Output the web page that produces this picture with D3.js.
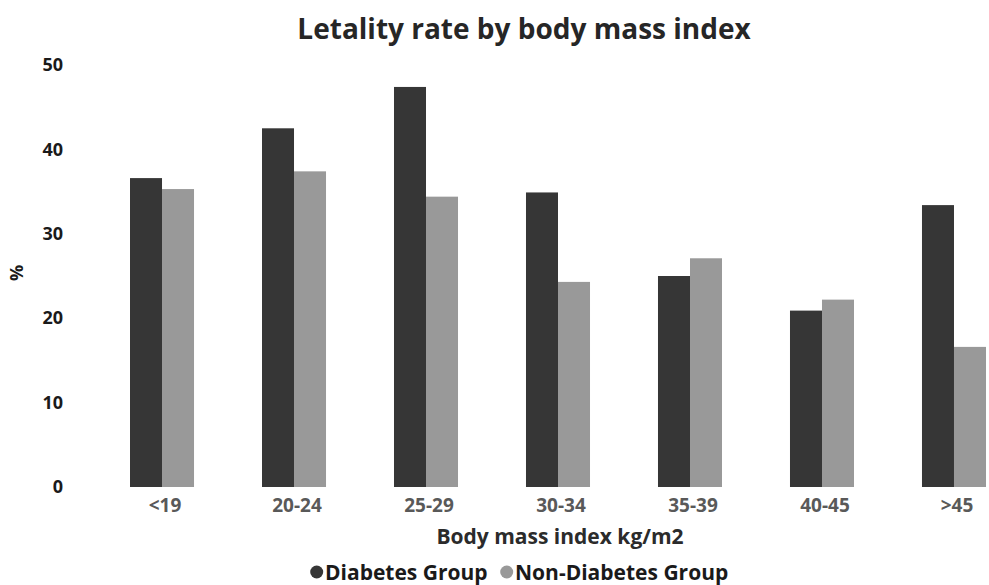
<!DOCTYPE html>
<html><head><meta charset="utf-8">
<script src="https://cdn.jsdelivr.net/npm/d3@7"></script>
<style>body{margin:0;background:#fff}svg{display:block;font-family:"Open Sans",sans-serif}</style>
</head><body>
<svg id="c" width="989" height="585"></svg>
<script>
const categories = ["<19","20-24","25-29","30-34","35-39","40-45",">45"];
const seriesNames = ["Diabetes Group","Non-Diabetes Group"];
const diabetes = [36.6,42.5,47.4,34.9,25.0,20.9,33.4];
const nonDiabetes = [35.3,37.4,34.4,24.3,27.1,22.2,16.6];
const yTicks = [0,10,20,30,40,50];
const colors = ["#363636","#999999"];

const svg = d3.select("#c");
const y = d3.scaleLinear().domain([0,50]).range([487,65]);
const x = d3.scaleBand().domain(categories).range([96,1020]).paddingInner(0.515).paddingOuter(0.2576);
const x1 = d3.scaleBand().domain(seriesNames).range([0,x.bandwidth()]);
const values = [diabetes, nonDiabetes];

const g = svg.append("g");
categories.forEach((c,i)=>{
  seriesNames.forEach((s,j)=>{
    g.append("rect")
      .attr("x", x(c)+x1(s)).attr("width", x1.bandwidth())
      .attr("y", y(values[j][i])).attr("height", y(0)-y(values[j][i]))
      .attr("fill", colors[j]);
  });
});

// y axis
const ya = svg.append("g").attr("transform","translate(63,0)")
  .call(d3.axisLeft(y).tickValues(yTicks).tickSize(0).tickPadding(0));
ya.select(".domain").remove();
ya.selectAll("text").attr("font-size",18).attr("font-weight",700).attr("fill","#1a1a1a").attr("font-family","Open Sans");

// x axis
const xa = svg.append("g").attr("transform","translate(3,498)")
  .call(d3.axisBottom(x).tickSize(0).tickPadding(0));
xa.select(".domain").remove();
xa.selectAll("text").attr("font-size",19).attr("font-weight",700).attr("fill","#595959").attr("font-family","Open Sans");

// title
svg.append("text").attr("x",524).attr("y",39).attr("text-anchor","middle")
  .attr("font-size",28).attr("font-weight",700).attr("fill","#262626").text("Letality rate by body mass index");

// axis titles
svg.append("text").attr("x",560).attr("y",544).attr("text-anchor","middle")
  .attr("font-size",21).attr("font-weight",700).attr("fill","#2b2b2b").text("Body mass index kg/m2");
svg.append("text").attr("transform","translate(23,273) rotate(-90)").attr("text-anchor","middle")
  .attr("font-size",18).attr("font-weight",700).attr("fill","#1a1a1a").text("%");

// legend
const legendItems = [{name:seriesNames[0],color:colors[0],dx:316.7,tx:325},{name:seriesNames[1],color:colors[1],dx:506.7,tx:515}];
legendItems.forEach(d=>{
  svg.append("circle").attr("cx",d.dx).attr("cy",572).attr("r",6.5).attr("fill",d.color);
  svg.append("text").attr("x",d.tx).attr("y",580).attr("font-size",21).attr("font-weight",700).attr("fill","#1a1a1a").text(d.name);
});
</script>
</body></html>
